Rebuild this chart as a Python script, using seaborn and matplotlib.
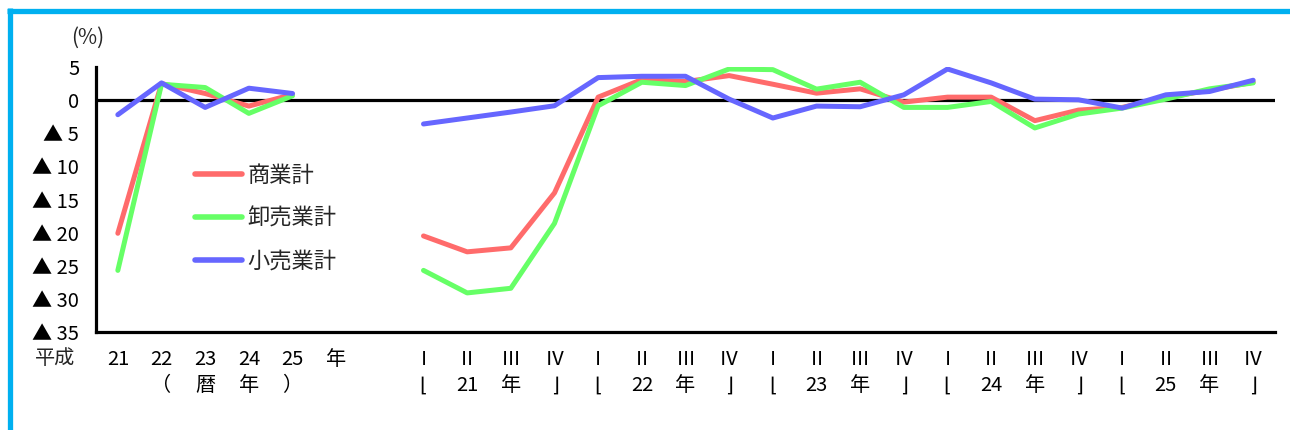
import pandas as pd
import matplotlib
matplotlib.use("Agg")
import matplotlib.pyplot as plt
import seaborn as sns
from matplotlib.lines import Line2D

# annual (calendar year) values, 平成21-25
years = ["21", "22", "23", "24", "25"]
annual_shogyo = [-20.1, 2.5, 1.0, -0.9, 0.85]
annual_oroshi = [-25.7, 2.4, 1.9, -2.0, 0.65]
annual_kouri = [-2.2, 2.6, -1.1, 1.8, 1.0]

# quarterly values, 平成21 I .. 平成25 IV
quarters = ["Ⅰ", "Ⅱ", "Ⅲ", "Ⅳ"]
q_shogyo = [-20.5, -22.9, -22.3, -14.0,
            0.45, 3.1, 2.8, 3.7,
            2.4, 1.05, 1.7, -0.3,
            0.45, 0.45, -3.1, -1.5,
            -1.1, 0.4, 1.5, 2.7]
q_oroshi = [-25.7, -29.1, -28.4, -18.6,
            -0.85, 2.7, 2.2, 4.7,
            4.6, 1.66, 2.7, -1.1,
            -1.1, -0.2, -4.2, -2.1,
            -1.2, 0.15, 1.7, 2.6]
q_kouri = [-3.6, -2.7, -1.8, -0.85,
           3.4, 3.6, 3.6, 0.15,
           -2.7, -0.9, -1.0, 0.8,
           4.7, 2.6, 0.15, 0.05,
           -1.2, 0.8, 1.3, 3.0]

series_names = ["商業計", "卸売業計", "小売業計"]
colors = ["#FF6B6B", "#66FF66", "#6666FF"]

# category slots on the x axis: 5 years, "年", a blank, then 20 quarters
slots = [f"Y{y}" for y in years] + ["年", ""]
for y in years:
    slots += [f"{y}-{q}" for q in quarters]
pos = {s: i for i, s in enumerate(slots)}

rows = []
for name, a_vals, q_vals in zip(series_names,
                                [annual_shogyo, annual_oroshi, annual_kouri],
                                [q_shogyo, q_oroshi, q_kouri]):
    for y, v in zip(years, a_vals):
        rows.append({"series": name, "seg": "annual", "x": pos[f"Y{y}"], "value": v})
    qlabels = [f"{y}-{q}" for y in years for q in quarters]
    for lab, v in zip(qlabels, q_vals):
        rows.append({"series": name, "seg": "quarter", "x": pos[lab], "value": v})
df = pd.DataFrame(rows)

sns.set_theme(style="white")
plt.rcParams["font.family"] = ["Noto Sans CJK JP", "DejaVu Sans"]

fig = plt.figure(figsize=(12.9, 4.3), dpi=100)
ax = fig.add_axes([96 / 1290, 1 - 332 / 430, (1275 - 96) / 1290, 265 / 430])

ax.axhline(0, color="black", lw=2.3, zorder=1)
sns.lineplot(data=df, x="x", y="value", hue="series", units="seg", estimator=None,
             palette=dict(zip(series_names, colors)), hue_order=series_names,
             lw=3.6, legend=False, ax=ax, zorder=3)

ax.set_xlim(-0.5, len(slots) - 0.5)
ax.set_ylim(-35, 5)
ax.set_xlabel("")
ax.set_ylabel("")

# y axis
yt = list(range(5, -40, -5))
ax.set_yticks(yt)
ax.set_yticklabels([str(v) if v >= 0 else f"▲ {-v}" for v in yt], fontsize=14.5)
ax.tick_params(axis="y", direction="in", length=5, width=1.5, pad=12, colors="black")

# x axis: labels at slot centres, tick marks at slot borders
xlabels = ["21", "22\n（", "23\n暦", "24\n年", "25\n）", "年", ""]
for y in years:
    xlabels += [f"{quarters[0]}\n⌊", f"{quarters[1]}\n{y}", f"{quarters[2]}\n年", f"{quarters[3]}\n⌋"]
ax.set_xticks(range(len(slots)))
ax.set_xticklabels(xlabels, fontsize=14.5, linespacing=1.35)
ax.set_xticks([i - 0.5 for i in range(len(slots) + 1)], minor=True)
ax.tick_params(axis="x", which="major", length=0, pad=12, colors="black")
ax.tick_params(axis="x", which="minor", direction="in", length=5, width=1.5, colors="black")

for side in ["top", "right"]:
    ax.spines[side].set_visible(False)
for side in ["left", "bottom"]:
    ax.spines[side].set_color("black")
    ax.spines[side].set_linewidth(2.3)

fig.text(88 / 1290, 1 - 38 / 430, "(%)", fontsize=15, ha="center", va="center")
fig.text(55 / 1290, 1 - 359 / 430, "平成", fontsize=14.5, ha="center", va="center")

handles = [Line2D([0], [0], color=c, lw=4) for c in colors]
ax.legend(handles, series_names, loc="upper left",
          bbox_to_anchor=(195 / 1290, 1 - 164 / 430), bbox_transform=fig.transFigure,
          frameon=False, fontsize=16, handlelength=2.1, handletextpad=0.25,
          labelspacing=0.9, borderpad=0, borderaxespad=0)

# blue frame at top and left
border = "#00B0F0"
fig.add_artist(Line2D([7 / 1290, 1], [1 - 10.5 / 430] * 2, color=border, lw=3.8,
                      transform=fig.transFigure, solid_capstyle="butt"))
fig.add_artist(Line2D([9.5 / 1290] * 2, [0, 1 - 8 / 430], color=border, lw=3.8,
                      transform=fig.transFigure, solid_capstyle="butt"))

fig.savefig("out.png", dpi=100)
